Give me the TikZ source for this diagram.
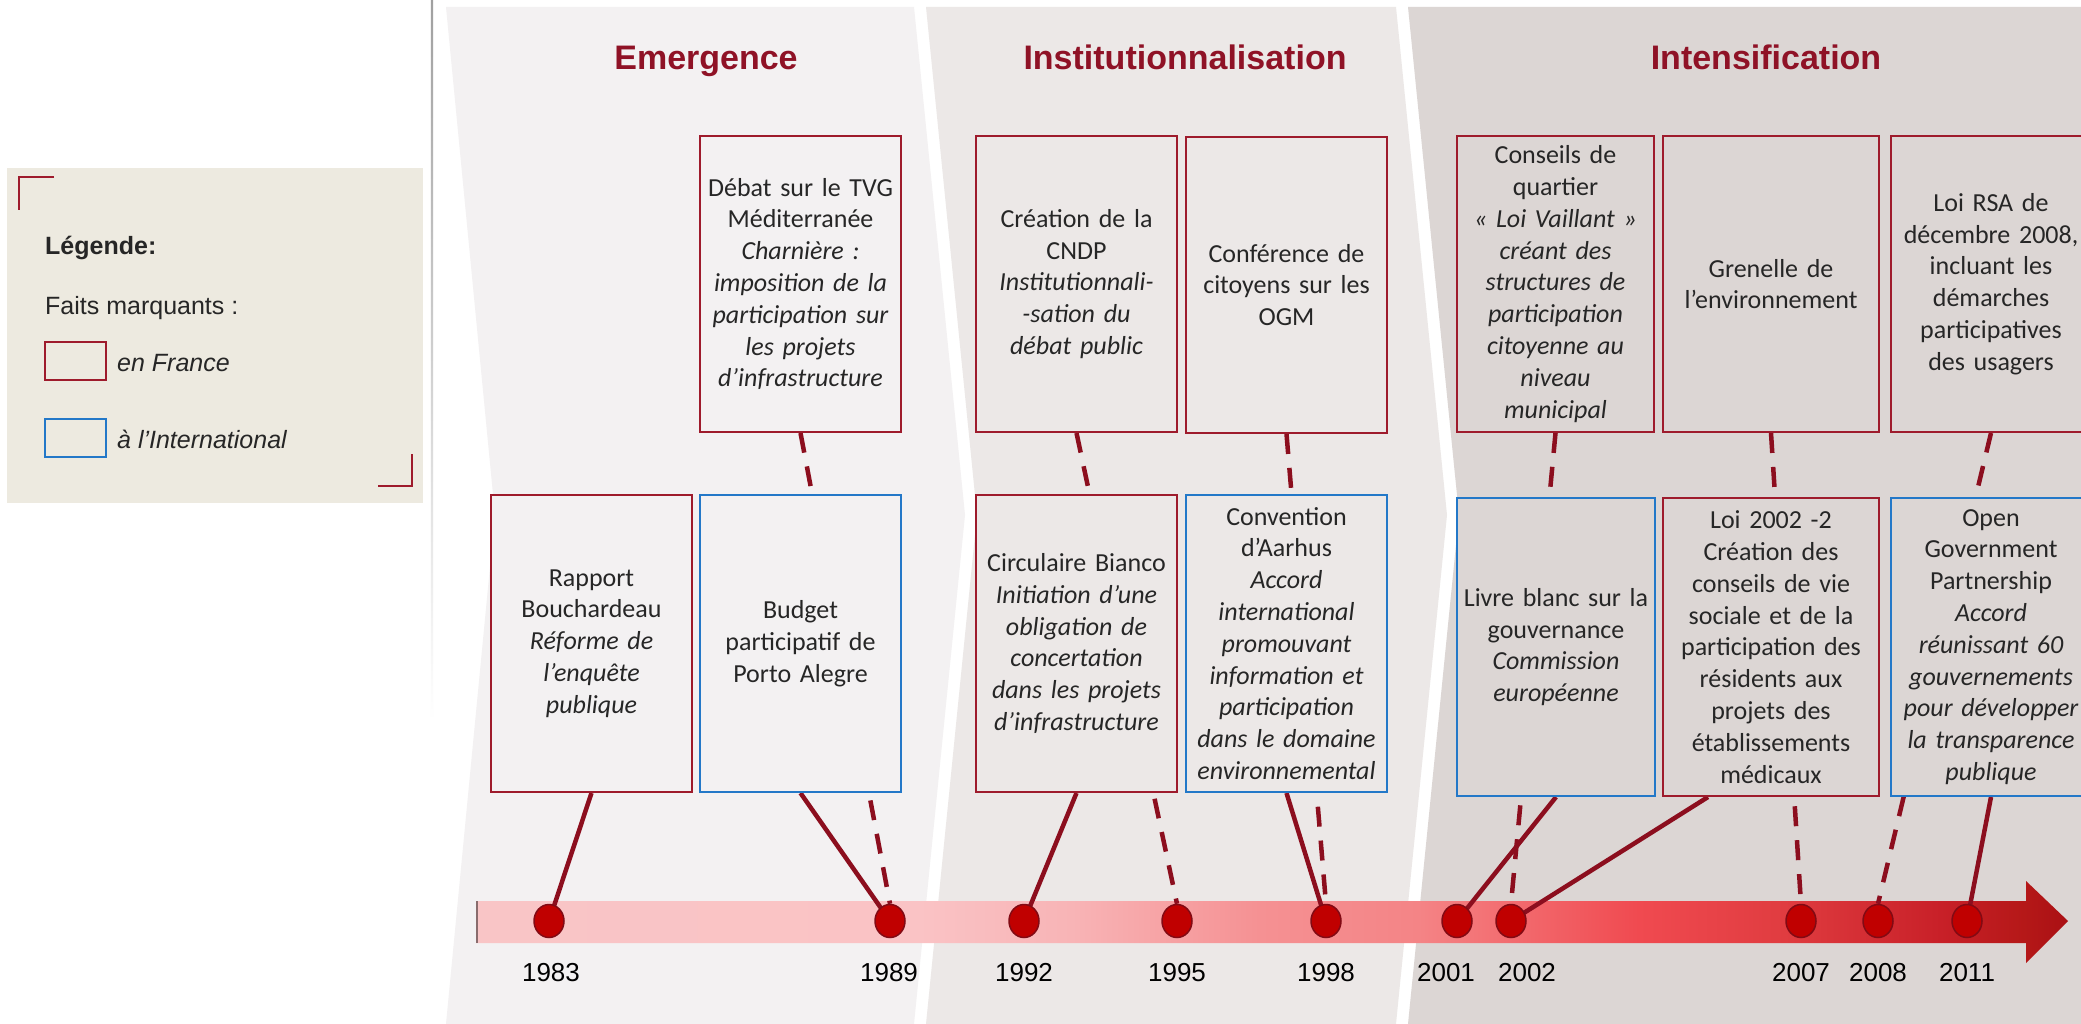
\documentclass[tikz,border=0pt]{standalone}
\usepackage{fontspec}
\setmainfont{Carlito}
\newfontfamily\arialfont{Liberation Sans}
\usetikzlibrary{calc,shapes.geometric}

\definecolor{titlered}{RGB}{143,18,38}
\definecolor{frred}{RGB}{158,27,44}
\definecolor{intblue}{RGB}{35,120,200}
\definecolor{linkred}{RGB}{140,14,30}
\definecolor{dotred}{RGB}{192,0,0}
\definecolor{dotedge}{RGB}{130,10,20}
\definecolor{paneA}{RGB}{243,241,242}
\definecolor{paneB}{RGB}{236,232,231}
\definecolor{paneC}{RGB}{220,214,212}
\definecolor{legendbg}{RGB}{237,234,224}
\definecolor{bodytext}{RGB}{38,38,38}
\definecolor{divider}{RGB}{160,160,160}
\definecolor{barA}{RGB}{249,197,198}
\definecolor{barB}{RGB}{250,195,197}
\definecolor{barC}{RGB}{248,180,182}
\definecolor{barD}{RGB}{245,145,147}
\definecolor{barE}{RGB}{244,132,134}
\definecolor{barF}{RGB}{240,74,80}
\definecolor{barG}{RGB}{224,60,64}
\definecolor{barH}{RGB}{200,32,40}
\definecolor{barI}{RGB}{181,24,24}
\definecolor{barJ}{RGB}{170,16,20}

% colour ramp of the time axis (useful part between 25bp and 75bp)
\pgfdeclarehorizontalshading{timebar}{100bp}{color(0bp)=(barA); color(25bp)=(barA); color(38.9bp)=(barB); color(43.7bp)=(barC); color(49.6bp)=(barD); color(54.6bp)=(barE); color(61.5bp)=(barF); color(66.1bp)=(barG); color(71bp)=(barH); color(73.6bp)=(barI); color(75bp)=(barJ); color(100bp)=(barJ)}

\pgfdeclarelayer{bg}
\pgfdeclarelayer{links}
\pgfsetlayers{bg,links,main}

\tikzset{
  evt/.style={draw, line width=2pt, inner sep=0pt, align=center,
    minimum height=296pt, text=bodytext,
    font=\fontsize{26}{31.8}\selectfont},
  frbox/.style={evt, draw=frred},
  intbox/.style={evt, draw=intblue},
  phase/.style={anchor=base, text=titlered,
    font=\arialfont\bfseries\fontsize{34}{40}\selectfont},
  year/.style={anchor=base, text=black,
    font=\arialfont\fontsize{26}{30}\selectfont},
  legtext/.style={anchor=base west, inner sep=0pt, text=bodytext,
    font=\arialfont\fontsize{25}{30}\selectfont},
  swatch/.style={draw, line width=2pt, minimum width=61pt,
    minimum height=38pt, inner sep=0pt},
  dot/.style={ellipse, fill=dotred, draw=dotedge, line width=1.5pt,
    minimum width=30pt, minimum height=33pt, inner sep=0pt},
  solidlink/.style={draw=linkred, line width=4.5pt},
  dashlink/.style={draw=linkred, line width=4.5pt, dash pattern=on 20pt off 14pt},
}

\begin{document}
\begin{tikzpicture}[x=1pt,y=-1pt]
\clip (0,0) rectangle (2081,1024);

% ---------- background: phases, legend, divider, time axis ----------
\begin{pgfonlayer}{bg}
  \fill[white] (0,0) rectangle (2081,1024);
  \fill[paneA] (446,7) -- (914,7) -- (965,515) -- (914,1024) -- (446,1024) -- (495,515) -- cycle;
  \fill[paneB] (926,7) -- (1396,7) -- (1447,515) -- (1396,1024) -- (926,1024) -- (977,515) -- cycle;
  \fill[paneC] (1408,7) -- (2081,7) -- (2081,1024) -- (1408,1024) -- (1459,515) -- cycle;

  \shade[top color=divider, middle color=divider, bottom color=white]
    (430.8,0) rectangle (433.2,720);

  \fill[legendbg] (7,168) rectangle (423,503);
  \draw[frred, line width=1.5pt] (54,177) -- (19,177) -- (19,210);
  \draw[frred, line width=1.5pt] (378,486) -- (412,486) -- (412,454);

  \shade[shading=timebar] (476,901) -- (2026,901) -- (2026,881) -- (2068,921)
    -- (2026,963) -- (2026,943) -- (476,943) -- cycle;
  \draw[line width=2pt, color=black!45!barA] (477,901) -- (477,943);
\end{pgfonlayer}

% ---------- legend ----------
\node[legtext, font=\arialfont\bfseries\fontsize{25}{30}\selectfont] (legtitle) at (45,255) {Légende:};
\node[legtext] (legfacts) at (45,315) {Faits marquants :};
\node[swatch, draw=frred] (legfr) at (75.5,361) {};
\node[swatch, draw=intblue] (legint) at (75.5,438) {};
\node[legtext, font=\arialfont\itshape\fontsize{25}{30}\selectfont] (legfrtxt) at (117,371) {en France};
\node[legtext, font=\arialfont\itshape\fontsize{25}{30}\selectfont] (leginttxt) at (117,448) {à l’International};

% ---------- phase titles ----------
\node[phase] (tEmer) at (706,70) {Emergence};
\node[phase] (tInst) at (1185,70) {Institutionnalisation};
\node[phase] (tInte) at (1766,70) {Intensification};

% ---------- events: Emergence ----------
\node[frbox, fill=paneA, minimum width=201pt, text width=197pt] (debat) at (800.5,284)
  {Débat sur le TVG\\ Méditerranée\\ \itshape Charnière :\\ imposition de la\\ participation sur\\ les projets\\ d’infrastructure};
\node[frbox, fill=paneA, minimum width=201pt, text width=197pt, minimum height=297pt] (rapport) at (591.5,643.5)
  {Rapport\\ Bouchardeau\\ \itshape Réforme de\\ l’enquête\\ publique};
\node[intbox, fill=paneA, minimum width=201pt, text width=197pt, minimum height=297pt] (budget) at (800.5,643.5)
  {Budget\\ participatif de\\ Porto Alegre};

% ---------- events: Institutionnalisation ----------
\node[frbox, fill=paneB, minimum width=201pt, text width=197pt] (creation) at (1076.5,284)
  {Création de la\\ CNDP\\ \itshape Institutionnali-\\ -sation du\\ débat public};
\node[frbox, fill=paneB, minimum width=201pt, text width=197pt] (conference) at (1286.5,285)
  {Conférence de\\ citoyens sur les\\ OGM};
\node[frbox, fill=paneB, minimum width=201pt, text width=197pt, minimum height=297pt] (circulaire) at (1076.5,643.5)
  {Circulaire Bianco\\ \itshape Initiation d’une\\ obligation de\\ concertation\\ dans les projets\\ d’infrastructure};
\node[intbox, fill=paneB, minimum width=201pt, text width=197pt, minimum height=297pt] (convention) at (1286.5,643.5)
  {Convention\\ d’Aarhus\\ \itshape Accord\\ international\\ promouvant\\ information et\\ participation\\ dans le domaine\\ environnemental};

% ---------- events: Intensification ----------
\node[frbox, fill=paneC, minimum width=197pt, text width=193pt] (conseils) at (1555.5,284)
  {Conseils de\\ quartier\\ \itshape « Loi Vaillant »\\ créant des\\ structures de\\ participation\\ citoyenne au\\ niveau\\ municipal};
\node[frbox, fill=paneC, minimum width=216pt, text width=210pt] (grenelle) at (1771,284)
  {Grenelle de\\ l’environnement};
\node[frbox, fill=paneC, minimum width=200pt, text width=196pt] (rsa) at (1991,284)
  {Loi RSA de\\ décembre 2008,\\ incluant les\\ démarches\\ participatives\\ des usagers};
\node[intbox, fill=paneC, minimum width=198pt, text width=194pt, minimum height=298pt] (livre) at (1556,647)
  {Livre blanc sur la\\ gouvernance\\ \itshape Commission\\ européenne};
\node[frbox, fill=paneC, minimum width=216pt, text width=210pt, minimum height=298pt] (loi) at (1771,647)
  {Loi 2002 -2\\ Création des\\ conseils de vie\\ sociale et de la\\ participation des\\ résidents aux\\ projets des\\ établissements\\ médicaux};
\node[intbox, fill=paneC, minimum width=200pt, text width=196pt, minimum height=298pt] (open) at (1991,647)
  {Open\\ Government\\ Partnership\\ \itshape Accord\\ réunissant 60\\ gouvernements\\ pour développer\\ la transparence\\ publique};

% ---------- time axis: dots and years ----------
\node[dot] (d1983) at (549,921) {};
\node[dot] (d1989) at (890,921) {};
\node[dot] (d1992) at (1024,921) {};
\node[dot] (d1995) at (1177,921) {};
\node[dot] (d1998) at (1326,921) {};
\node[dot] (d2001) at (1457,921) {};
\node[dot] (d2002) at (1511,921) {};
\node[dot] (d2007) at (1801,921) {};
\node[dot] (d2008) at (1878,921) {};
\node[dot] (d2011) at (1967,921) {};

\node[year] (y1983) at (551,981) {1983};
\node[year] (y1989) at (889,981) {1989};
\node[year] (y1992) at (1024,981) {1992};
\node[year] (y1995) at (1177,981) {1995};
\node[year] (y1998) at (1326,981) {1998};
\node[year] (y2001) at (1446,981) {2001};
\node[year] (y2002) at (1527,981) {2002};
\node[year] (y2007) at (1801,981) {2007};
\node[year] (y2008) at (1878,981) {2008};
\node[year] (y2011) at (1967,981) {2011};

% ---------- connectors (under the boxes and dots) ----------
\begin{pgfonlayer}{links}
  \draw[solidlink] (rapport.south) -- (d1983.center);
  \draw[solidlink] (budget.south) -- (d1989.center);
  \draw[solidlink] (circulaire.south) -- (d1992.center);
  \draw[solidlink] (convention.south) -- (d1998.center);
  \draw[solidlink] (livre.south) -- (d2001.center);
  \draw[solidlink] ($(loi.south)+(-63,0)$) -- (d2002.center);
  \draw[solidlink] (open.south) -- (d2011.center);

  \draw[dashlink] (debat.south) -- (d1989.north);
  \draw[dashlink] (creation.south) -- (d1995.north);
  \draw[dashlink] (conference.south) -- (d1998.north);
  \draw[dashlink] (conseils.south) -- (d2002.north);
  \draw[dashlink] (grenelle.south) -- (d2007.north);
  \draw[dashlink] (rsa.south) -- (d2008.north);
\end{pgfonlayer}
\end{tikzpicture}
\end{document}
